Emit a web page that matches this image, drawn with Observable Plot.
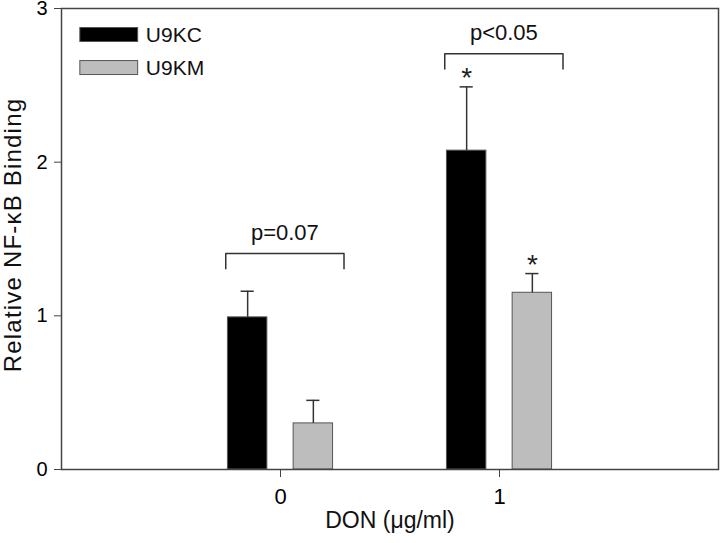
<!DOCTYPE html>
<html><head><meta charset="utf-8">
<script src="https://cdn.jsdelivr.net/npm/d3@7"></script>
<script src="https://cdn.jsdelivr.net/npm/@observablehq/plot@0.6"></script>
<style>body{margin:0;background:#fff}</style>
</head><body><div id="chart"></div>
<script>
// ---- data ----
const doses = [0, 1];                 // DON (µg/ml)
const series = ["U9KC", "U9KM"];
const u9kcMean = [0.99, 2.075];
const u9kcSE   = [0.17, 0.415];
const u9kmMean = [0.30, 1.15];
const u9kmSE   = [0.15, 0.125];
const u9kcSig  = [false, true];       // asterisk
const u9kmSig  = [false, true];
const pLabels  = ["p=0.07", "p<0.05"];
const pHeights = [1.405, 2.705];      // bracket top, in y units
const yTicks = [0, 1, 2, 3];
const xTicks = [0, 1];

// ---- build table ----
const rows = [];
doses.forEach((d, i) => {
  rows.push({dose: d, series: "U9KC", mean: u9kcMean[i], se: u9kcSE[i], sig: u9kcSig[i]});
  rows.push({dose: d, series: "U9KM", mean: u9kmMean[i], se: u9kmSE[i], sig: u9kmSig[i]});
});
const offset = {U9KC: -0.15, U9KM: 0.15};
const half = 0.09, cap = 0.03;
const cx = d => d.dose + offset[d.series];

const brackets = [];
doses.forEach((d, i) => {
  const x1 = d - 0.25, x2 = d + 0.29, top = pHeights[i], drop = 0.098;
  brackets.push({k: i, x: x1, y: top - drop}, {k: i, x: x1, y: top}, {k: i, x: x2, y: top}, {k: i, x: x2, y: top - drop});
});
const pRows = doses.map((d, i) => ({x: d + 0.02, y: pHeights[i], text: pLabels[i]}));

// legend placed in data space (top-left of frame)
const legend = series.map((s, i) => ({s, y1: 2.873 - i * 0.215, y2: 2.782 - i * 0.215}));

const font = "'Liberation Sans', Arial, Helvetica, sans-serif";
const chart = Plot.plot({
  width: 720, height: 543,
  marginLeft: 61, marginRight: 2, marginTop: 8, marginBottom: 74,
  style: {fontFamily: font, fontSize: "21px", color: "#000", background: "#fff"},
  x: {type: "linear", domain: [-1, 2]},
  y: {domain: [0, 3]},
  color: {domain: series, range: ["#000000", "#bdbdbd"]},
  marks: [
    Plot.rect(rows, {x1: d => cx(d) - half, x2: d => cx(d) + half, y1: 0, y2: "mean", fill: "series", stroke: "#555", strokeWidth: 1}),
    Plot.ruleX(rows, {x: cx, y1: "mean", y2: d => d.mean + d.se, stroke: "#333", strokeWidth: 1.5}),
    Plot.ruleY(rows, {y: d => d.mean + d.se, x1: d => cx(d) - cap, x2: d => cx(d) + cap, stroke: "#333", strokeWidth: 1.5}),
    Plot.text(rows.filter(d => d.sig), {x: cx, y: d => d.mean + d.se, text: () => "*", fontSize: 28, dy: -9, fill: "#222"}),
    Plot.line(brackets, {x: "x", y: "y", z: "k", stroke: "#333", strokeWidth: 1.5}),
    Plot.text(pRows, {x: "x", y: "y", text: "text", dy: -21, fontSize: 22, fill: "#111"}),
    Plot.rect(legend, {x1: -0.914, x2: -0.65, y1: "y1", y2: "y2", fill: "s", stroke: "#555", strokeWidth: 1}),
    Plot.text(legend, {x: -0.615, y: d => (d.y1 + d.y2) / 2, text: "s", textAnchor: "start", fontSize: 21, fill: "#111"}),
    Plot.axisY({ticks: yTicks, tickFormat: "d", tickSize: 7, tickPadding: 7, label: null, stroke: "#444", fontSize: 20}),
    Plot.axisX({ticks: xTicks, tickFormat: "d", tickSize: 8, tickPadding: 11, label: null, stroke: "#444", fontSize: 22}),
    Plot.frame({stroke: "#444", strokeWidth: 1.5}),
    Plot.text(["Relative NF-\u03BAB Binding"], {frameAnchor: "left", textAnchor: "middle", rotate: -90, dx: -48, dy: -4, fontSize: 24, fill: "#111"}),
    Plot.text(["DON (\u03BCg/ml)"], {frameAnchor: "bottom", textAnchor: "middle", dy: 58, fontSize: 23, fill: "#111"})
  ]
});
// slight letter spacing on the y-axis title to match the reference's longer title
d3.select(chart).selectAll("text").filter(function() { return this.textContent.startsWith("Relative"); })
  .style("letter-spacing", "1.2px");
document.getElementById("chart").appendChild(chart);
</script>
</body></html>
